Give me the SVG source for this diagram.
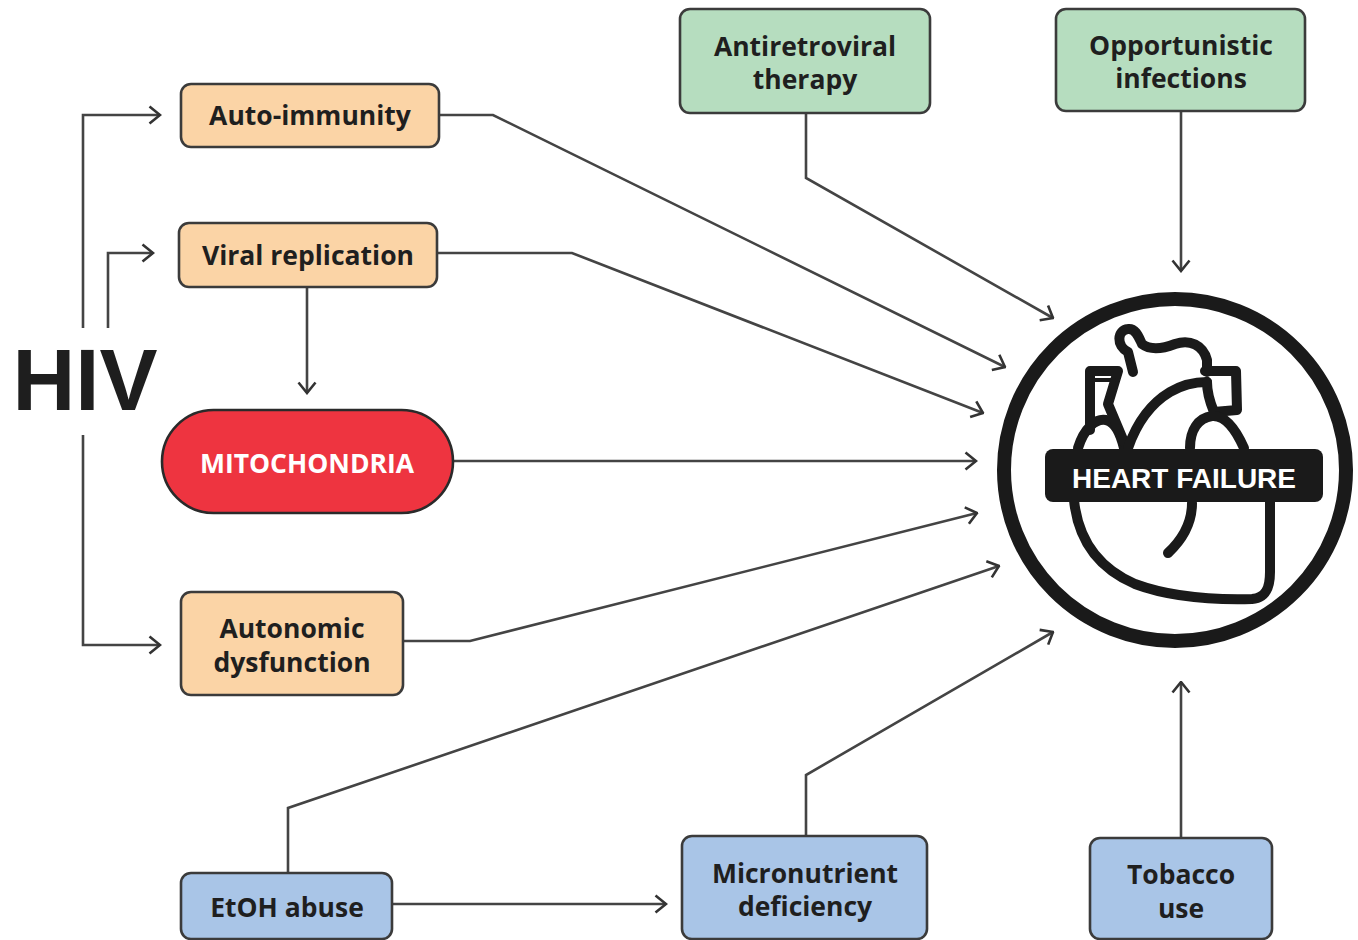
<svg xmlns="http://www.w3.org/2000/svg" width="1358" height="940" viewBox="0 0 1358 940">
  <style>
    .box { stroke: #3b3b3b; stroke-width: 2.6; }
    .peach { fill: #FBD4A6; }
    .green { fill: #B6DDBF; }
    .blue { fill: #A9C5E7; }
    .red { fill: #EE3440; stroke: #2a2a2a; stroke-width: 2.6; }
    .lbl { font-family: "Open Sans", "Noto Sans", sans-serif; font-weight: 700; font-size: 26.5px; fill: #1f1f1f; text-anchor: middle; }
    .conn { fill: none; stroke: #444; stroke-width: 2.6; stroke-linejoin: miter; }
    .arrow { marker-end: url(#chev); }
  </style>
  <defs>
    <marker id="chev" viewBox="0 0 14 20" refX="12.5" refY="10" markerWidth="14" markerHeight="20" markerUnits="userSpaceOnUse" orient="auto">
      <path d="M2,1.5 L12.5,10 L2,18.5" fill="none" stroke="#333" stroke-width="2.6"/>
    </marker>
  </defs>

  <rect width="1358" height="940" fill="#ffffff"/>

  <!-- connectors -->
  <g id="connectors">
    <polyline class="conn arrow" points="83,328 83,115 160,115"/>
    <polyline class="conn arrow" points="108,328 108,253 153,253"/>
    <polyline class="conn arrow" points="83,435 83,645 160,645"/>
    <polyline class="conn arrow" points="307,287 307,393"/>
    <polyline class="conn arrow" points="439,115 493,115 1005,367"/>
    <polyline class="conn arrow" points="437,253 572,253 983,413"/>
    <polyline class="conn arrow" points="453,461 976,461"/>
    <polyline class="conn arrow" points="403,641 470,641 977,513"/>
    <polyline class="conn arrow" points="288,873 288,808 999,566"/>
    <polyline class="conn arrow" points="806,113 806,178 1053,318"/>
    <polyline class="conn arrow" points="1181,111 1181,271"/>
    <polyline class="conn arrow" points="806,836 806,775 1053,632"/>
    <polyline class="conn arrow" points="1181,838 1181,682"/>
    <polyline class="conn arrow" points="392,904 666,904"/>
  </g>

  <g id="hiv">
    <text x="85" y="410" font-family="Liberation Sans, Arial, sans-serif" font-weight="bold" font-size="87" fill="#1e1e1e" text-anchor="middle">HIV</text>
  </g>

  <g id="auto-immunity">
    <rect class="box peach" x="181" y="84" width="258" height="63" rx="10"/>
    <text class="lbl" x="310" y="125">Auto-immunity</text>
  </g>

  <g id="viral-replication">
    <rect class="box peach" x="179" y="223" width="258" height="64" rx="10"/>
    <text class="lbl" x="308" y="265">Viral replication</text>
  </g>

  <g id="mitochondria">
    <rect class="red" x="162" y="410" width="291" height="103" rx="51.5"/>
    <text x="307" y="473" font-family="Open Sans, Noto Sans, sans-serif" font-weight="700" font-size="26.5" fill="#ffffff" text-anchor="middle">MITOCHONDRIA</text>
  </g>

  <g id="autonomic-dysfunction">
    <rect class="box peach" x="181" y="592" width="222" height="103" rx="10"/>
    <text class="lbl" x="292" y="638">Autonomic</text>
    <text class="lbl" x="292" y="672">dysfunction</text>
  </g>

  <g id="antiretroviral-therapy">
    <rect class="box green" x="680" y="9" width="250" height="104" rx="10"/>
    <text class="lbl" x="805" y="56">Antiretroviral</text>
    <text class="lbl" x="805" y="89">therapy</text>
  </g>

  <g id="opportunistic-infections">
    <rect class="box green" x="1056" y="9" width="249" height="102" rx="10"/>
    <text class="lbl" x="1181" y="55">Opportunistic</text>
    <text class="lbl" x="1181" y="88">infections</text>
  </g>

  <g id="etoh-abuse">
    <rect class="box blue" x="181" y="873" width="211" height="66" rx="10"/>
    <text class="lbl" x="287" y="917">EtOH abuse</text>
  </g>

  <g id="micronutrient-deficiency">
    <rect class="box blue" x="682" y="836" width="245" height="103" rx="10"/>
    <text class="lbl" x="805" y="883">Micronutrient</text>
    <text class="lbl" x="805" y="916">deficiency</text>
  </g>

  <g id="tobacco-use">
    <rect class="box blue" x="1090" y="838" width="182" height="101" rx="10"/>
    <text class="lbl" x="1181" y="884">Tobacco</text>
    <text class="lbl" x="1181" y="918">use</text>
  </g>

  <g id="heart-failure">
    <circle cx="1175" cy="470" r="171" fill="#ffffff" stroke="#1a1a1a" stroke-width="14"/>
    <!-- heart outline -->
    <g fill="none" stroke="#1a1a1a" stroke-width="10" stroke-linecap="round" stroke-linejoin="round">
      <!-- lower body -->
      <path d="M1074 500 C1078 540 1098 568 1135 584 C1170 597 1215 600 1252 599 C1266 598 1270 588 1270 572 L1270 500"/>
      <!-- septum -->
      <path d="M1192 503 C1192 522 1184 538 1168 553"/>
      <!-- left small arch -->
      <path d="M1078 448 C1084 428 1096 418 1106 420 C1116 422 1121 436 1124 448"/>
      <!-- superior vena cava tube -->
      <path d="M1090 430 L1090 371 L1118 371 L1108 404 L1124 442"/>
      <path d="M1094 380 L1114 380" stroke-width="4"/>
      <!-- aortic knob and top edge -->
      <path d="M1133 372 L1128 352 C1116 346 1117 330 1128 329 C1136 328 1139 338 1142 344 C1150 350 1162 349 1175 344 C1190 339 1203 345 1207 360 L1207 372"/>
      <!-- inner arch of the aorta -->
      <path d="M1128 448 C1136 425 1150 404 1170 392 C1182 385 1196 382 1207 382"/>
      <!-- pulmonary artery cap -->
      <path d="M1205 371 L1236 371 L1237 410 L1214 412 C1209 400 1207 390 1207 382"/>
      <!-- right arch -->
      <path d="M1190 448 C1190 430 1198 418 1212 416 C1225 415 1236 430 1244 448"/>
    </g>
    <rect x="1045" y="449" width="278" height="53" rx="8" fill="#1a1a1a"/>
    <text x="1184" y="488" font-family="Liberation Sans, Arial, sans-serif" font-weight="bold" font-size="28" fill="#ffffff" text-anchor="middle">HEART FAILURE</text>
  </g>
</svg>
